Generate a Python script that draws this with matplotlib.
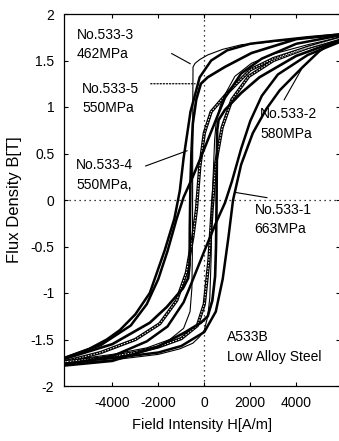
import numpy as np
import matplotlib
matplotlib.use("Agg")
import matplotlib.pyplot as plt

plt.rcParams['font.family'] = ['Liberation Sans', 'DejaVu Sans']
plt.rcParams['axes.unicode_minus'] = False

# --- values: H [A/m], B [T] ---
# No.533-1 663MPa (widest loop)
h1_down = [5900, 4500, 3000, 2000, 1000, 300, -200, -600, -900, -1065, -1300, -1720, -2370, -3000, -3675, -4240, -5000, -6100]
b1_down = [1.78, 1.75, 1.71, 1.68, 1.61, 1.50, 1.32, 0.95, 0.45, 0.10, -0.20, -0.54, -1.00, -1.23, -1.40, -1.50, -1.60, -1.70]
h1_up = [-6100, -4000, -2000, -1000, 0, 500, 800, 1050, 1250, 1600, 2110, 2700, 3280, 4280, 5000, 5900]
b1_up = [-1.75, -1.70, -1.64, -1.57, -1.42, -1.20, -0.85, -0.40, 0.00, 0.38, 0.72, 0.98, 1.18, 1.43, 1.60, 1.75]

# No.533-2 580MPa
h2_down = [5900, 4500, 3000, 2000, 1000, 300, 0, -200, -340, -500, -775, -1200, -1935, -3000, -4500, -6100]
b2_down = [1.74, 1.64, 1.52, 1.40, 1.15, 0.95, 0.72, 0.35, -0.10, -0.40, -0.78, -1.08, -1.33, -1.50, -1.64, -1.74]
h2_up = [-6100, -4500, -3000, -2000, -1000, -300, 0, 200, 340, 500, 775, 1200, 1935, 3000, 4500, 5900]
b2_up = [-1.74, -1.70, -1.64, -1.58, -1.49, -1.35, -1.12, -0.65, -0.10, 0.40, 0.78, 1.08, 1.33, 1.50, 1.64, 1.74]

# No.533-3 462MPa (thin, square loop)
h3_down = [5900, 4000, 2500, 1620, 800, 150, -200, -400, -490, -500, -505, -510, -520, -540, -620, -900, -1500, -2500, -4000, -6100]
b3_down = [1.77, 1.73, 1.69, 1.67, 1.62, 1.56, 1.51, 1.47, 1.43, 1.10, 0.50, -0.10, -0.60, -0.95, -1.20, -1.38, -1.50, -1.59, -1.66, -1.73]
h3_up = [-6100, -4000, -2000, -1060, -500, -200, 0, 150, 240, 300, 340, 400, 450, 520, 700, 890, 1330, 2050, 3000, 4500, 5900]
b3_up = [-1.76, -1.72, -1.66, -1.60, -1.54, -1.47, -1.40, -1.25, -1.05, -0.60, 0.00, 0.35, 0.65, 0.85, 1.02, 1.13, 1.33, 1.47, 1.57, 1.67, 1.75]

# No.533-4 550MPa (sheared loop)
h4_down = [5900, 4000, 2500, 1600, 900, 600, 0, -500, -900, -1200, -1600, -2000, -2500, -3200, -4500, -6100]
b4_down = [1.77, 1.68, 1.52, 1.36, 1.10, 0.92, 0.55, 0.25, 0.03, -0.20, -0.55, -0.85, -1.12, -1.35, -1.56, -1.70]
h4_up = [-6100, -4000, -2500, -1600, -900, -600, 0, 500, 900, 1200, 1600, 2000, 2500, 3200, 4500, 5900]
b4_up = [-1.77, -1.68, -1.52, -1.36, -1.10, -0.92, -0.55, -0.25, -0.03, 0.20, 0.55, 0.85, 1.12, 1.35, 1.56, 1.70]

# No.533-5 550MPa (thick, square loop)
h5_down = [5900, 4000, 2050, 890, 150, -150, -350, -500, -560, -600, -630, -640, -700, -930, -1630, -2370, -4000, -6100]
b5_down = [1.78, 1.73, 1.58, 1.43, 1.32, 1.25, 1.08, 0.82, 0.50, 0.20, -0.30, -0.70, -0.84, -0.95, -1.15, -1.32, -1.55, -1.71]
h5_up = [-6100, -4000, -2050, -890, -150, 150, 350, 470, 510, 530, 545, 560, 620, 900, 1600, 2400, 4000, 5900]
b5_up = [-1.78, -1.73, -1.58, -1.43, -1.32, -1.25, -1.08, -0.82, -0.50, -0.10, 0.40, 0.75, 0.86, 0.97, 1.15, 1.32, 1.55, 1.72]

x_ticks = [-4000, -2000, 0, 2000, 4000]
x_labels = ['-4000', '-2000', '0', '2000', '4000']
y_ticks = [2, 1.5, 1, 0.5, 0, -0.5, -1, -1.5, -2]
y_labels = ['2', '1.5', '1', '0.5', '0', '-0.5', '-1', '-1.5', '-2']

fig = plt.figure(figsize=(3.39, 4.41), dpi=100)
ax = fig.add_axes([64/339, 55/441, 276/339, 372/441])

# loops
ax.plot(h1_down, b1_down, color='black', lw=1.8)
ax.plot(h1_up, b1_up, color='black', lw=1.8)
ax.plot(h2_down, b2_down, color='black', lw=2.4)
ax.plot(h2_up, b2_up, color='black', lw=2.4)
ax.plot(h2_down, b2_down, color='white', lw=0.7, ls=(0, (1.5, 1.5)))
ax.plot(h2_up, b2_up, color='white', lw=0.7, ls=(0, (1.5, 1.5)))
ax.plot(h3_down, b3_down, color='black', lw=0.8)
ax.plot(h3_up, b3_up, color='black', lw=0.8)
ax.plot(h4_down, b4_down, color='black', lw=1.8)
ax.plot(h4_up, b4_up, color='black', lw=1.8)
ax.plot(h5_down, b5_down, color='black', lw=1.9)
ax.plot(h5_up, b5_up, color='black', lw=1.9)

# dotted zero lines
ax.axhline(0, color='black', lw=0.9, ls=(0, (1, 3)))
ax.axvline(0, color='black', lw=0.9, ls=(0, (1, 3)))

ax.set_xlim(-6100, 5900)
ax.set_ylim(-2, 2)
ax.set_xticks(x_ticks)
ax.set_xticklabels(x_labels)
ax.set_yticks(y_ticks)
ax.set_yticklabels(y_labels)
ax.tick_params(direction='in', length=3, width=0.8, top=True, right=True,
               labelsize=10, pad=7)
for s in ax.spines.values():
    s.set_linestyle((0, (1, 1)))
    s.set_linewidth(0.9)

ax.set_xlabel('Field Intensity H[A/m]', fontsize=10.5, labelpad=6)
ax.set_ylabel('Flux Density B[T]', fontsize=12, labelpad=6)

# labels with leader lines
txt = dict(fontsize=10, ha='left', va='top', linespacing=1.5)
arrow = dict(arrowstyle='-', color='black', lw=0.8)
ax.annotate('No.533-3\n462MPa', xy=(-500, 1.45), xytext=(-5540, 1.85),
            **txt)
ax.annotate('', xy=(-500, 1.45), xytext=(-1530, 1.59), arrowprops=arrow)
ax.annotate('No.533-5\n550MPa', xy=(-280, 1.25), xytext=(-5320, 1.27), **txt)
ax.annotate('', xy=(-280, 1.25), xytext=(-2450, 1.25),
            arrowprops=dict(arrowstyle='-', color='black', lw=0.9, ls=(0, (1, 1.5))))
ax.annotate('No.533-4\n550MPa,', xy=(-630, 0.54), xytext=(-5580, 0.45), **txt)
ax.annotate('', xy=(-630, 0.54), xytext=(-2670, 0.355), arrowprops=arrow)
ax.annotate('No.533-2\n580MPa', xy=(4280, 1.43), xytext=(2420, 1.0), **txt)
ax.annotate('', xy=(4280, 1.43), xytext=(3410, 1.05), arrowprops=arrow)
ax.annotate('No.533-1\n663MPa', xy=(1240, 0.086), xytext=(2190, -0.03), **txt)
ax.annotate('', xy=(1240, 0.086), xytext=(2850, 0.02), arrowprops=arrow)
ax.text(980, -1.40, 'A533B\nLow Alloy Steel', **txt)

fig.savefig('out.png', dpi=100)
